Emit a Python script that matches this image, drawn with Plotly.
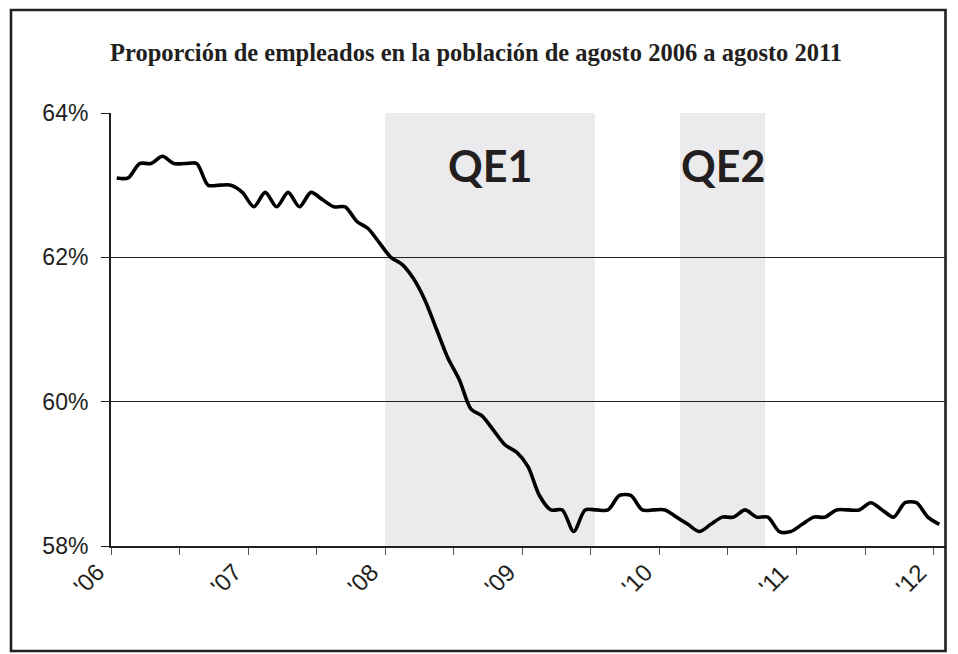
import plotly.graph_objects as go

# ---- data ----
title_text = "Proporción de empleados en la población de agosto 2006 a agosto 2011"
months = list(range(73))  # monthly observations, category index
epop = [63.1, 63.1, 63.3, 63.3, 63.4, 63.3, 63.3, 63.3, 63.0, 63.0,
        63.0, 62.9, 62.7, 62.9, 62.7, 62.9, 62.7, 62.9, 62.8, 62.7,
        62.7, 62.5, 62.4, 62.2, 62.0, 61.9, 61.7, 61.4, 61.0, 60.6,
        60.3, 59.9, 59.8, 59.6, 59.4, 59.3, 59.1, 58.7, 58.5, 58.5,
        58.2, 58.5, 58.5, 58.5, 58.7, 58.7, 58.5, 58.5, 58.5, 58.4,
        58.3, 58.2, 58.3, 58.4, 58.4, 58.5, 58.4, 58.4, 58.2, 58.2,
        58.3, 58.4, 58.4, 58.5, 58.5, 58.5, 58.6, 58.5, 58.4, 58.6,
        58.6, 58.4, 58.3]
year_labels = ["'06", "'07", "'08", "'09", "'10", "'11", "'12"]
y_ticks = [58, 60, 62, 64]
qe_names = ["QE1", "QE2"]
qe_start = [23.5, 49.3]
qe_end = [41.85, 56.75]

# ---- layout geometry ----
W, H = 958, 654
L, R, T, B = 111, 945, 113, 546
pw, ph = R - L, B - T
def px(x):
    return (x - L) / pw
def py(y):
    return (B - y) / ph

ink = "#231f20"
axis_font = dict(family="Liberation Sans, Arial, sans-serif", size=23, color=ink)

tickvals = [-0.5 + 6 * k for k in range(13)]
ticktext = ["" for k in range(13)]
label_pos = [-0.5 + 12 * k for k in range(len(year_labels))]

fig = go.Figure()
fig.add_trace(go.Scatter(
    x=months, y=epop, mode="lines",
    line=dict(color="black", width=3.6, shape="spline", smoothing=0.8),
    hoverinfo="skip", showlegend=False,
))

shapes = []
annotations = []
for name, s, e in zip(qe_names, qe_start, qe_end):
    shapes.append(dict(type="rect", xref="x", yref="y", x0=s, x1=e, y0=58, y1=64,
                       fillcolor="#EBEBED", line=dict(width=0), layer="below"))
    annotations.append(dict(xref="x", yref="paper", x=(s + e) / 2, y=py(165),
                            text="<b>%s</b>" % name, showarrow=False,
                            xanchor="center", yanchor="middle",
                            font=dict(family="Lato, Open Sans, sans-serif", size=43, color=ink)))

# rotated year labels
for lab, xv in zip(year_labels, label_pos):
    annotations.append(dict(xref="x", yref="paper", x=xv, y=py(579), xshift=-23,
                            text=lab, showarrow=False, textangle=-45,
                            xanchor="center", yanchor="middle",
                            font=dict(family="Liberation Sans, Arial, sans-serif", size=24, color=ink)))

# outer frame
shapes.append(dict(type="rect", xref="paper", yref="paper",
                   x0=px(11), x1=px(945.5), y0=py(651), y1=py(10),
                   line=dict(color=ink, width=2.6), fillcolor="rgba(0,0,0,0)", layer="above"))

annotations.append(dict(xref="paper", yref="paper", x=px(476), y=py(53),
                        text="<b>%s</b>" % title_text, showarrow=False,
                        xanchor="center", yanchor="middle",
                        font=dict(family="Liberation Serif, Times New Roman, serif", size=24.5, color=ink)))

fig.update_layout(
    width=W, height=H,
    margin=dict(l=L, r=W - R, t=T, b=H - B, pad=0),
    paper_bgcolor="white", plot_bgcolor="white",
    shapes=shapes, annotations=annotations,
    showlegend=False,
    xaxis=dict(range=[-0.5, 72.5], tickmode="array", tickvals=tickvals, ticktext=ticktext,
               ticks="outside", ticklen=7, tickcolor="#555", tickwidth=1.2,
               showline=True, linecolor=ink, linewidth=2, showgrid=False, zeroline=False,
               tickfont=axis_font, mirror=False),
    yaxis=dict(range=[58, 64], tickmode="array", tickvals=y_ticks,
               ticktext=["%d%%" % v for v in y_ticks],
               ticks="outside", ticklen=8, tickcolor=ink, tickwidth=1.2,
               showline=True, linecolor=ink, linewidth=2,
               showgrid=True, gridcolor=ink, gridwidth=1.2, zeroline=False,
               tickfont=axis_font, ticklabelstandoff=8),
)

fig.write_html("out.html", config={"displayModeBar": False},
               post_script="document.body.style.margin='0';document.body.style.overflow='hidden';")
